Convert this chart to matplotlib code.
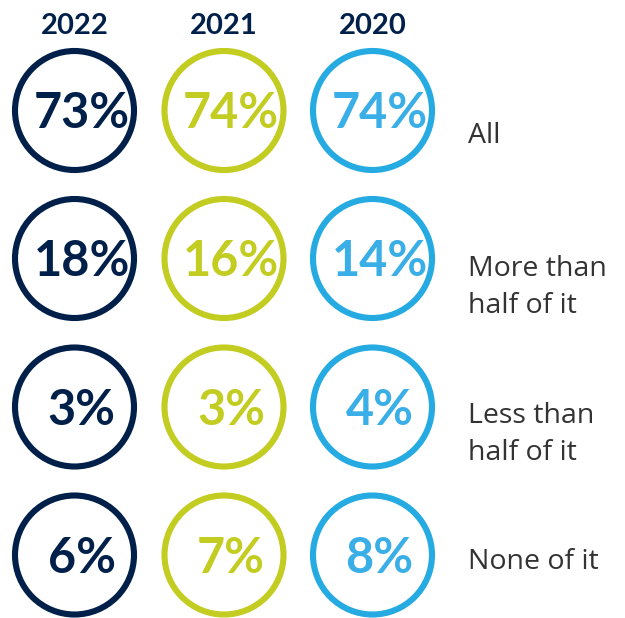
import matplotlib
matplotlib.use("Agg")
import matplotlib.pyplot as plt
from matplotlib.patches import Circle

years = ["2022", "2021", "2020"]
categories = ["All", "More than\nhalf of it", "Less than\nhalf of it", "None of it"]
values_2022 = [73, 18, 3, 6]
values_2021 = [74, 16, 3, 7]
values_2020 = [74, 14, 4, 8]
series = [values_2022, values_2021, values_2020]

ring_colors = ["#00204a", "#c3cc20", "#25abe2"]
text_colors = ["#00204a", "#c3cc20", "#3aaee6"]

W, H = 625, 618
fig = plt.figure(figsize=(W / 100, H / 100), dpi=100)
ax = fig.add_axes([0, 0, 1, 1])
ax.set_xlim(0, W)
ax.set_ylim(H, 0)
ax.axis("off")

col_x = [74.5, 224, 372.5]
row_y = [110.5, 258.5, 407, 555]
radius = 59.5
font = "Lato"

for j, yr in enumerate(years):
    ax.text(col_x[j], 34, yr, ha="center", va="baseline", fontsize=21,
            fontweight="bold", color="#00204a", family=font)

for j, vals in enumerate(series):
    for i, v in enumerate(vals):
        ax.add_patch(Circle((col_x[j], row_y[i]), radius, fill=False,
                            lw=4.4, edgecolor=ring_colors[j]))
        ax.text(col_x[j] + 7, row_y[i] + 18, f"{v}%", ha="center", va="baseline",
                fontsize=35, fontweight="bold", color=text_colors[j], family=font)

# baselines of first line of each label
label_base = [143, 276, 423, 569]
for i, c in enumerate(categories):
    for k, line in enumerate(c.split("\n")):
        ax.text(468, label_base[i] + 37 * k, line, ha="left", va="baseline",
                fontsize=20.5, color="#333333", family="Open Sans")

fig.savefig("out.png", dpi=100)
